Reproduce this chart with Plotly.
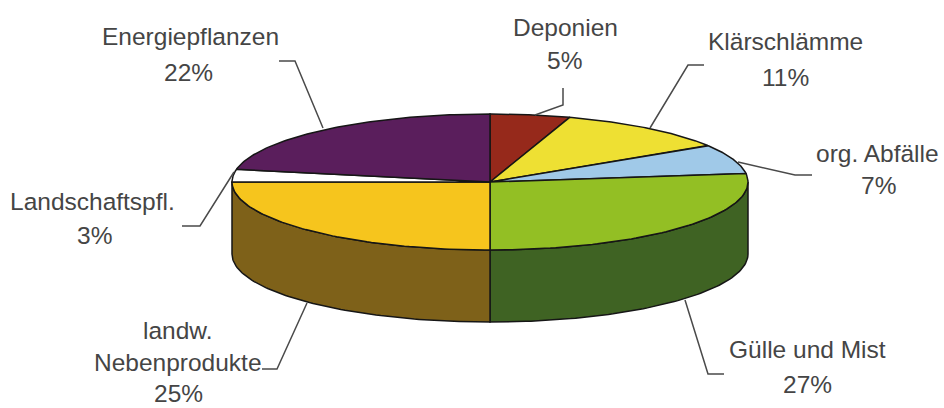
import numpy as np
import plotly.graph_objects as go

categories = ["Deponien", "Klärschlämme", "org. Abfälle", "Gülle und Mist",
              "landw.<br>Nebenprodukte", "Landschaftspfl.", "Energiepflanzen"]
shares = [5, 11, 7, 27, 25, 3, 22]
top_colors = ["#96291b", "#eee033", "#a0c9e8", "#93bf24", "#f6c51d", "#ffffff", "#5a1e5c"]
side_colors = ["#5c1a10", "#8f861e", "#60788b", "#3f6323", "#7e6119", "#999999", "#36123a"]

# pie geometry, in pixels of the page
cx, cy = 490, 182
rx, ry = 258, 68
depth = 72
line_color = "#161616"


def rim(a0, a1, dy=0):
    # a = degrees clockwise from 12 o'clock
    a = np.radians(np.linspace(a0, a1, 80))
    return cx + rx * np.sin(a), cy - ry * np.cos(a) + dy


fig = go.Figure()

edges = np.cumsum([0] + shares) * 3.6

# side wall, only the front half of the pie shows
for i, name in enumerate(categories):
    a0, a1 = max(edges[i], 90), min(edges[i + 1], 270)
    if a1 <= a0:
        continue
    x1, y1 = rim(a0, a1)
    x2, y2 = rim(a1, a0, depth)
    fig.add_trace(go.Scatter(
        x=np.r_[x1, x2, x1[0]], y=np.r_[y1, y2, y1[0]],
        mode="lines", fill="toself", fillcolor=side_colors[i],
        line=dict(color=line_color, width=1.5), hoverinfo="skip"
    ))

# top face
for i, name in enumerate(categories):
    x1, y1 = rim(edges[i], edges[i + 1])
    fig.add_trace(go.Scatter(
        x=np.r_[cx, x1, cx], y=np.r_[cy, y1, cy],
        mode="lines", fill="toself", fillcolor=top_colors[i],
        line=dict(color=line_color, width=1.5), hoverinfo="skip"
    ))

# leader lines
leaders = [
    [(563, 88), (563, 105), (535, 115)],
    [(704, 65), (688, 65), (650, 128)],
    [(812, 175), (795, 175), (738, 162)],
    [(685, 300), (708, 374), (724, 374)],
    [(307, 303), (277, 369), (262, 369)],
    [(234, 172), (200, 226), (182, 226)],
    [(279, 61), (295, 61), (323, 128)],
]
for pts in leaders:
    fig.add_trace(go.Scatter(
        x=[p[0] for p in pts], y=[p[1] for p in pts],
        mode="lines", line=dict(color="#4a4a4a", width=1.5), hoverinfo="skip"
    ))

# name centre and percent centre of each label
label_pos = [
    (565, 27, 564, 60),
    (785, 41, 785, 77),
    (877, 153, 878, 185),
    (807, 349, 807, 384),
    (178, 346, 178, 393),
    (92, 201, 94, 235),
    (190, 36, 188, 72),
]
for i, name in enumerate(categories):
    nx, ny, px, py = label_pos[i]
    fig.add_annotation(x=nx, y=ny, text=name, showarrow=False,
                       align="center", font=dict(size=24.5))
    fig.add_annotation(x=px, y=py, text=f"{shares[i]}%", showarrow=False,
                       font=dict(size=24.5))

fig.update_layout(
    width=944, height=408,
    margin=dict(l=0, r=0, t=0, b=0),
    paper_bgcolor="white", plot_bgcolor="white",
    showlegend=False,
    font=dict(family="Liberation Sans", color="#454545"),
    xaxis=dict(range=[0, 944], visible=False),
    yaxis=dict(range=[408, 0], visible=False),
)

fig.write_html("out.html", config=dict(displayModeBar=False),
               post_script="document.body.style.margin='0';")
